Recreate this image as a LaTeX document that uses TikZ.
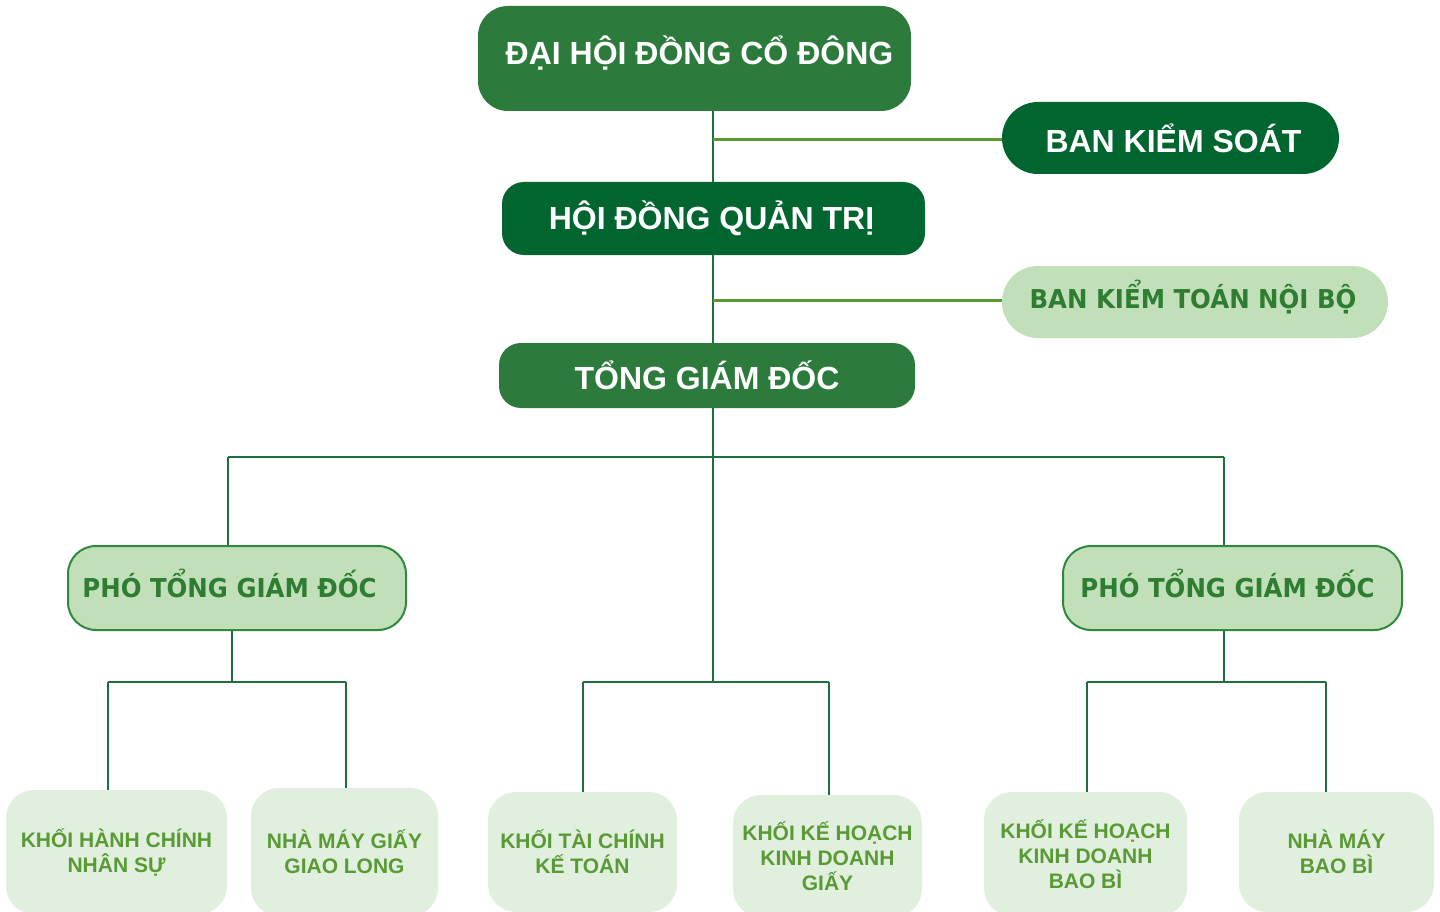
\documentclass[tikz,border=0pt]{standalone}
\usepackage{fontspec}
\setmainfont{Liberation Sans}
\newfontfamily\tah[FakeStretch=0.94]{DejaVu Sans}
\definecolor{cdh}{HTML}{2C7B3D}
\definecolor{cdk}{HTML}{00652F}
\definecolor{clt}{HTML}{C1DFB8}
\definecolor{ctx}{HTML}{2E7D32}
\definecolor{cbd}{HTML}{2E8B3E}
\definecolor{cpl}{HTML}{E1F0DE}
\definecolor{cpt}{HTML}{5A9A35}
\definecolor{cln}{HTML}{1F6E3F}
\definecolor{cll}{HTML}{5B9A31}
\tikzset{
  bx/.style={inner sep=0pt, align=center},
  dkbox/.style={bx, fill=#1, text=white, font=\fontsize{32}{36}\selectfont\bfseries},
  ltbox/.style={bx, fill=clt, text=ctx, font=\tah\fontsize{26}{30}\selectfont\bfseries},
  plbox/.style={bx, fill=cpl, text=cpt, rounded corners=28pt, font=\fontsize{21}{25}\selectfont\bfseries},
  conn/.style={draw=cln, line width=2pt},
  lconn/.style={draw=cll, line width=3pt}
}
\newcommand{\placetxt}[3]{\raisebox{#1}[0pt][0pt]{\hspace*{#2}#3}}
\begin{document}
\begin{tikzpicture}[x=1pt,y=-1pt]
\useasboundingbox (0,0) rectangle (1440,912);
\clip (0,0) rectangle (1440,912);
% coordinates
\coordinate (j0) at (713,457);
\coordinate (jl) at (228,457);
\coordinate (jr) at (1224,457);
\coordinate (k1) at (713,140);
\coordinate (k2) at (713,300);
\coordinate (jm) at (713,682);
\coordinate (m1) at (583,682);
\coordinate (m2) at (829,682);
\coordinate (jl2) at (232,682);
\coordinate (l1) at (108,682);
\coordinate (l2) at (346,682);
\coordinate (jr2) at (1224,682);
\coordinate (r1) at (1087,682);
\coordinate (r2) at (1326,682);
% connectors first (behind boxes)
\draw[conn] (jl) -- (jr);
\draw[conn] (j0) -- (jm);
\draw[conn] (m1) -- (m2);
\draw[conn] (l1) -- (l2);
\draw[conn] (r1) -- (r2);
% boxes
\node[dkbox=cdh, rounded corners=30pt, minimum width=433pt, minimum height=105pt] (dh) at (694.5,58.5) {\placetxt{-6.5pt}{10pt}{ĐẠI HỘI ĐỒNG CỔ ĐÔNG}};
\node[dkbox=cdk, rounded corners=36pt, minimum width=337pt, minimum height=72pt] (bks) at (1170.5,138) {\hspace*{6pt}BAN KIỂM SOÁT};
\node[dkbox=cdk, rounded corners=22pt, minimum width=423pt, minimum height=73pt] (hdqt) at (713.5,218.5) {\hspace*{-4pt}HỘI ĐỒNG QUẢN TRỊ};
\node[ltbox, rounded corners=36pt, minimum width=386pt, minimum height=72pt] (bktnb) at (1195,302) {\placetxt{-6pt}{-4pt}{BAN KIỂM TOÁN NỘI BỘ}};
\node[dkbox=cdh, rounded corners=22pt, minimum width=416pt, minimum height=65pt] (tgd) at (707,375.5) {TỔNG GIÁM ĐỐC};
\node[ltbox, draw=cbd, line width=2pt, rounded corners=28pt, minimum width=338pt, minimum height=84pt] (p1) at (237,588) {\placetxt{-9pt}{-15pt}{PHÓ TỔNG GIÁM ĐỐC}};
\node[ltbox, draw=cbd, line width=2pt, rounded corners=28pt, minimum width=339pt, minimum height=84pt] (p2) at (1232.5,588) {\placetxt{-9pt}{-10pt}{PHÓ TỔNG GIÁM ĐỐC}};
\node[plbox, minimum width=221pt, minimum height=124pt] (b1) at (116.5,852) {KHỐI HÀNH CHÍNH\\NHÂN SỰ};
\node[plbox, minimum width=187pt, minimum height=128pt] (b2) at (344.5,852) {NHÀ MÁY GIẤY\\GIAO LONG};
\node[plbox, minimum width=189pt, minimum height=120pt] (b3) at (582.5,852) {KHỐI TÀI CHÍNH\\KẾ TOÁN};
\node[plbox, minimum width=189pt, minimum height=122pt] (b4) at (827.5,856) {KHỐI KẾ HOẠCH\\KINH DOANH\\GIẤY};
\node[plbox, minimum width=203pt, minimum height=124pt] (b5) at (1085.5,854) {KHỐI KẾ HOẠCH\\KINH DOANH\\BAO BÌ};
\node[plbox, minimum width=195pt, minimum height=120pt] (b6) at (1336.5,852) {NHÀ MÁY\\BAO BÌ};
% connectors between boxes
\draw[conn] (dh.south -| j0) -- (hdqt.north -| j0);
\draw[conn] (hdqt.south -| j0) -- (tgd.north -| j0);
\draw[conn] (tgd.south -| j0) -- (j0);
\draw[lconn] (k1) -- (k1 -| bks.west);
\draw[lconn] (k2) -- (k2 -| bktnb.west);
\draw[conn] (jl) -- (jl |- p1.north);
\draw[conn] (jr) -- (jr |- p2.north);
\draw[conn] (p1.south -| jl2) -- (jl2);
\draw[conn] (p2.south -| jr2) -- (jr2);
\draw[conn] (l1) -- (l1 |- b1.north);
\draw[conn] (l2) -- (l2 |- b2.north);
\draw[conn] (m1) -- (m1 |- b3.north);
\draw[conn] (m2) -- (m2 |- b4.north);
\draw[conn] (r1) -- (r1 |- b5.north);
\draw[conn] (r2) -- (r2 |- b6.north);
\end{tikzpicture}
\end{document}
